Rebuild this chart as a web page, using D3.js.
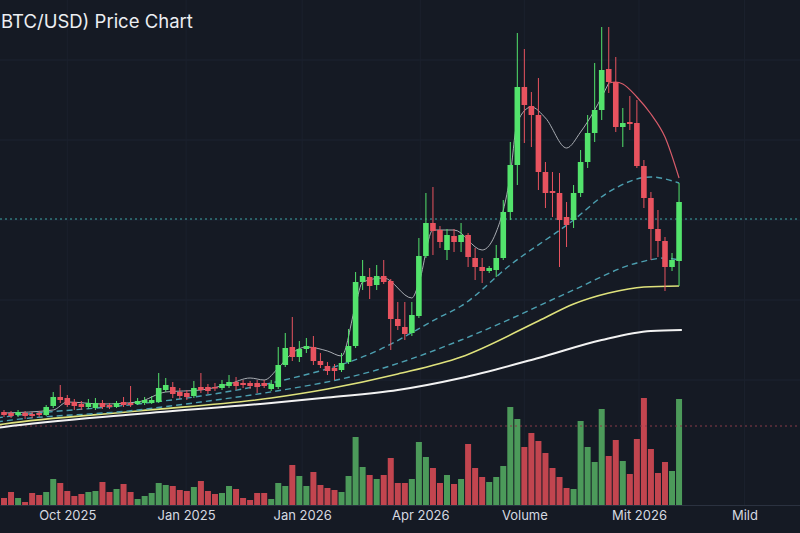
<!DOCTYPE html>
<html>
<head>
<meta charset="utf-8">
<script src="https://cdn.jsdelivr.net/npm/d3@7"></script>
<style>
  html, body { margin: 0; padding: 0; background: #151a24; }
  svg { display: block; }
</style>
</head>
<body>
<div id="chart"></div>
<script>
// price in thousand USD, one row per candle: [open, high, low, close]
const ohlc = [
  [22, 22.5, 20.75, 21.25], [21.75, 22.25, 20.5, 21], [21.25, 22.5, 20.75, 22], [21.75, 22.25, 20.25, 21],
  [21.5, 22, 20.5, 21], [21.75, 22.25, 20.75, 21.25], [21.25, 23.75, 21, 23.25], [23.5, 27, 23, 25.75],
  [25.75, 28.75, 24.25, 25], [25.5, 26.25, 23.25, 23.75], [24.5, 25.25, 22.5, 23.5], [24, 24.75, 22.5, 23.25],
  [23.25, 25.25, 22.75, 24.25], [23, 25.5, 22.5, 24.25], [24.25, 25, 22.75, 23.25], [23.75, 24.25, 22.75, 23.25],
  [23.25, 24.75, 23, 24.25], [24.5, 25.75, 23.25, 23.75], [24.25, 28.5, 23.25, 23.75], [24, 25.5, 23.75, 24.75],
  [24.25, 25.75, 23.75, 25], [24.25, 26, 24, 25], [24.5, 31.75, 24.25, 28], [27.5, 30.5, 27, 28.75],
  [28.25, 29.5, 25.5, 26.5], [27, 28, 25.25, 26], [26.75, 27.5, 25, 25.75], [26, 29.75, 25.5, 28],
  [28.25, 31.75, 26.75, 27.5], [28.25, 29, 26.5, 27.25], [28.25, 29.25, 27.25, 28], [28, 30, 27.5, 29],
  [28.5, 31.25, 28, 29.5], [29.5, 30.75, 27.5, 28.5], [29.25, 30, 28, 28.75], [29.25, 29.75, 27.75, 28.5],
  [29.25, 30, 26.75, 28.25], [29.25, 30, 28, 28.5], [27.75, 30, 27.25, 29], [28.25, 38.25, 27.75, 33.75],
  [33.75, 41.75, 33.25, 38], [38.25, 45.75, 34.75, 35.75], [35.75, 39.75, 34.5, 37.75], [37.75, 40.5, 36.75, 38.5],
  [38.25, 41, 33.75, 34.75], [34.75, 36.75, 33, 33.75], [33.5, 34.5, 31.25, 32.25], [33, 34, 30, 32.25],
  [32.5, 36.75, 32, 34.25], [34.5, 42.75, 34, 38.5], [38.5, 57, 38, 54.5], [54.5, 60, 52.5, 56],
  [55.75, 58, 50.25, 53.5], [53.75, 58.75, 52.5, 56], [56, 60, 54, 54.5], [54.75, 55.25, 37.5, 45.25],
  [45.25, 49.5, 42.5, 43.5], [43.25, 49.5, 40, 41.5], [41.75, 49.5, 41, 46.25], [46, 65.5, 45.5, 61],
  [61, 76.75, 60.5, 69.25], [69.25, 78.25, 61.25, 67.25], [67.5, 68.5, 63, 64.5], [62.5, 67.75, 60, 66.25],
  [66, 67.75, 62, 64.5], [64.5, 69.25, 62, 66.25], [66.25, 66.75, 58.25, 60.75], [60.5, 63, 55, 58.25],
  [58.25, 60.5, 54.25, 57.25], [57.25, 58.5, 56.75, 58], [57.5, 63.75, 55.75, 60.5], [60.5, 75, 60, 72],
  [72, 89.5, 70, 83.75], [83.75, 116.75, 78.75, 103.25], [103.25, 112.75, 89.25, 98.75], [98.5, 102, 88.25, 96.25],
  [96.25, 105.5, 77.5, 82], [82, 84.5, 73, 76.75], [77.25, 82, 70.75, 76.75], [76.75, 81.75, 58.25, 70],
  [70.75, 74.5, 63.25, 68.75], [70, 78.75, 68, 76.75], [76.75, 87.5, 75.75, 84.5], [84.5, 96.25, 83, 91.75],
  [91.75, 109.25, 89.5, 97.5], [97.5, 118.25, 95, 107.5], [107.75, 118.25, 101.75, 104.5], [104.5, 110.75, 92, 93.25],
  [93.25, 98, 88.25, 94.25], [94.5, 101, 92.5, 94], [94.25, 100, 83, 83.5], [83.5, 85, 73, 75.5],
  [75.5, 77, 60, 67.75], [67.75, 72.5, 60.75, 64.75], [64.75, 65.75, 52.25, 58.25], [58.25, 61.75, 57.25, 60],
  [59.75, 79.25, 53.5, 74.5]
];

// volume in thousand BTC, one per candle
const volume = [
  7, 13, 7, 3, 12, 10, 13, 26, 22, 14, 9, 11, 13, 14, 23, 13, 16, 21, 13, 6,
  9, 12, 22, 20, 19, 15, 14, 18, 24, 14, 11, 12, 19, 16, 7, 5, 12, 12, 6, 22,
  19, 40, 29, 19, 33, 20, 17, 15, 13, 29, 68, 38, 30, 26, 30, 47, 22, 22, 26, 63,
  48, 37, 22, 30, 21, 26, 61, 37, 28, 23, 28, 39, 98, 86, 58, 72, 64, 52, 37, 28,
  17, 16, 84, 58, 43, 96, 49, 65, 44, 31, 66, 107, 56, 32, 43, 34, 106
];

// moving averages as [candle index, price]
const maLong = [[-1, 18], [0, 18.25], [19, 21.5], [38, 24.25], [46, 25.6], [56, 27.5], [65, 30.5], [76, 35.5], [85, 40], [92, 42.25], [96.4, 42.5]];
const maMid = [[-1, 18.75], [0, 19], [19, 22.25], [38, 25.5], [46, 27.75], [56, 31.5], [65, 35.75], [76, 44.75], [81, 49], [86, 51.75], [91, 53.25], [96, 53.5]];
const maDashUpper = [[-1, 20.5], [0, 20.75], [19, 24], [28, 26], [38, 29.25], [53, 37.25], [62, 45.75], [65, 48.5], [72, 58.75], [81, 70], [86, 77], [92, 80.75], [96, 79.25]];
const maDashLower = [[-1, 19.5], [0, 19.75], [19, 22.5], [28, 24.5], [37, 26.75], [53, 32.5], [65, 40], [72, 45.25], [81, 52.5], [90, 59.25], [94, 60.5], [96, 60]];
const maFast = [[0, 21.75], [7, 22.5], [9, 24.5], [14, 24], [19, 24.5], [23, 27], [28, 27.5], [32, 29], [35, 30.5], [37, 30],
  [39, 33], [41, 36.75], [43, 38.25], [46, 37.25], [48, 36], [50, 48.75], [51, 54.5], [54, 55.5], [58, 50.5], [59, 54.25],
  [61, 67.5], [64, 67.5], [68, 62.5], [70, 67], [72, 81.25], [73, 94.5], [75, 98.25], [77, 95.5], [80, 88], [82, 92],
  [84, 97.5], [86, 104.25]];
const maFastDown = [[86, 104.25], [87, 104.5], [88, 104], [90, 100.75], [92, 96.5], [94, 90.75], [96, 80.5]];

const priceLine = 70.25;   // dotted teal marker
const volumeLine = 79;     // dotted red marker in the volume pane

const tickPos = [9, 25.9, 42.4, 59.2, 74, 90.3, 105.3];
const tickLabels = ["Oct 2025", "Jan 2025", "Jan 2026", "Apr 2026", "Volume", "Mit 2026", "Mild"];
const gridPrice = [30, 50, 70, 90, 110];

const title = "BTC/USD) Price Chart";

const width = 800, height = 533;
const up = "#53e36c", down = "#e8535f";
const volUp = "#4c9a5a", volDown = "#c2454f";

const svg = d3.select("#chart").append("svg")
  .attr("width", width)
  .attr("height", height)
  .style("background", "#151a24");

const x = d3.scaleLinear().domain([-0.57, 113.2]).range([0, width]);
const y = d3.scaleLinear().domain([20, 120]).range([420, 20]);
const yVol = d3.scaleLinear().domain([0, 100]).range([505, 405]);

// grid
svg.append("g")
  .selectAll("line")
  .data(gridPrice)
  .join("line")
  .attr("x1", 0).attr("x2", width)
  .attr("y1", d => y(d)).attr("y2", d => y(d))
  .attr("stroke", "#1c2330").attr("stroke-width", 1);

svg.append("g")
  .selectAll("line")
  .data(tickPos)
  .join("line")
  .attr("x1", d => x(d)).attr("x2", d => x(d))
  .attr("y1", 0).attr("y2", yVol(0))
  .attr("stroke", "#1b212d").attr("stroke-width", 1);

// volume
svg.append("g")
  .selectAll("rect")
  .data(volume)
  .join("rect")
  .attr("x", (d, i) => x(i) - 3)
  .attr("width", 6)
  .attr("y", d => yVol(d))
  .attr("height", d => yVol(0) - yVol(d))
  .attr("fill", (d, i) => ohlc[i][3] >= ohlc[i][0] ? volUp : volDown);

// marker lines
svg.append("line")
  .attr("x1", 0).attr("x2", width)
  .attr("y1", y(priceLine)).attr("y2", y(priceLine))
  .attr("stroke", "#3fa7a8").attr("stroke-width", 1)
  .attr("stroke-dasharray", "2,3");

svg.append("line")
  .attr("x1", 0).attr("x2", width)
  .attr("y1", yVol(volumeLine)).attr("y2", yVol(volumeLine))
  .attr("stroke", "#8a3a48").attr("stroke-width", 1)
  .attr("stroke-dasharray", "2,3");

// axis
const axis = d3.axisBottom(x)
  .tickValues(tickPos)
  .tickFormat((d, i) => tickLabels[i])
  .tickSize(0)
  .tickPadding(6);

const axisG = svg.append("g")
  .attr("transform", `translate(0,${yVol(0)})`)
  .call(axis);
axisG.select(".domain").attr("stroke", "#2b3240");
axisG.selectAll("text")
  .attr("fill", "#d5d9e0")
  .style("font-family", "Inter, Roboto, sans-serif")
  .style("font-size", "13px");

// moving averages
const line = d3.line()
  .x(d => x(d[0]))
  .y(d => y(d[1]))
  .curve(d3.curveMonotoneX);

const drawLine = (data, color, w, dash) => {
  svg.append("path")
    .attr("d", line(data))
    .attr("fill", "none")
    .attr("stroke", color)
    .attr("stroke-width", w)
    .attr("stroke-dasharray", dash || null);
};

drawLine(maLong, "#f2f2f2", 2);
drawLine(maMid, "#dfe27c", 1.6);
drawLine(maDashLower, "#4c9fb0", 1.4, "6,4");
drawLine(maDashUpper, "#4c9fb0", 1.4, "6,4");
drawLine(maFast, "#a9adb3", 1);
drawLine(maFastDown, "#d85c6a", 1.2);

// candles
const candles = svg.append("g")
  .selectAll("g")
  .data(ohlc)
  .join("g")
  .attr("fill", d => d[3] >= d[0] ? up : down)
  .attr("stroke", d => d[3] >= d[0] ? up : down);

candles.append("line")
  .attr("x1", (d, i) => x(i)).attr("x2", (d, i) => x(i))
  .attr("y1", d => y(d[1])).attr("y2", d => y(d[2]))
  .attr("stroke-width", 1);

candles.append("rect")
  .attr("x", (d, i) => x(i) - 2.8)
  .attr("width", 5.6)
  .attr("y", d => y(Math.max(d[0], d[3])))
  .attr("height", d => Math.max(1.5, Math.abs(y(d[0]) - y(d[3]))))
  .attr("stroke", "none");

// title
svg.append("text")
  .attr("x", 1)
  .attr("y", 28)
  .attr("fill", "#eceef2")
  .style("font-family", "Inter, Roboto, sans-serif")
  .style("font-size", "18.5px")
  .text(title);
</script>
</body>
</html>
